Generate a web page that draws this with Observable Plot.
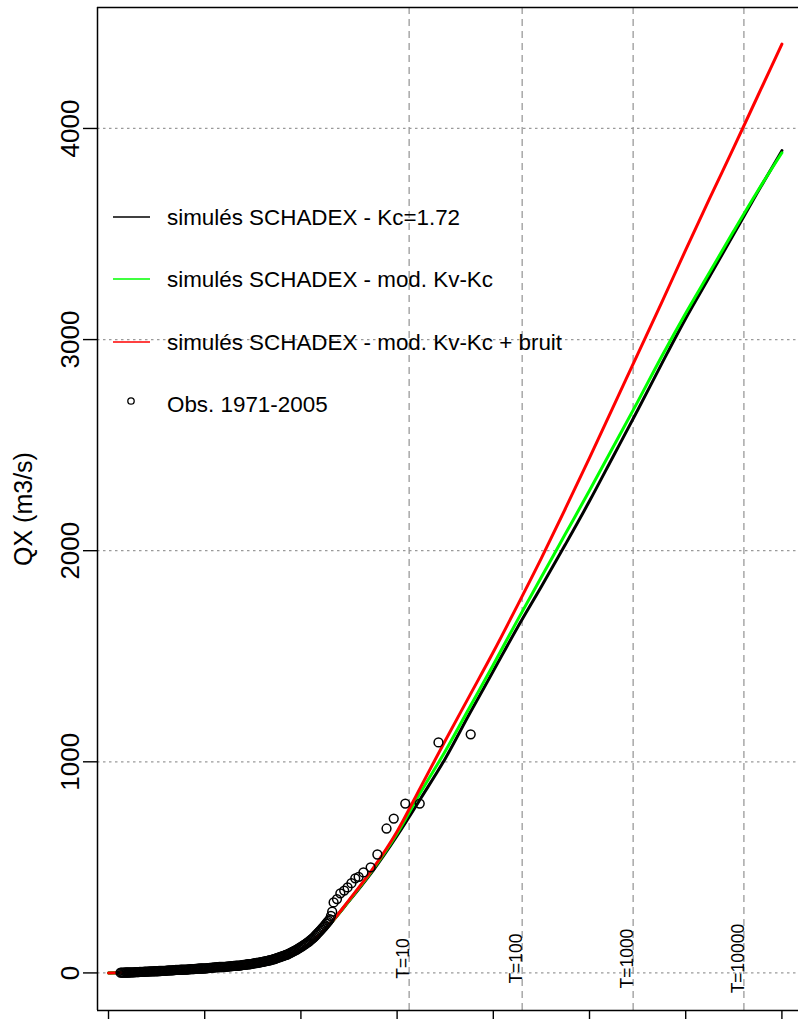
<!DOCTYPE html>
<html><head><meta charset="utf-8">
<script src="https://cdn.jsdelivr.net/npm/d3@7"></script>
<script src="https://cdn.jsdelivr.net/npm/@observablehq/plot@0.6"></script>
<style>body{margin:0;background:#fff;overflow:hidden} svg{display:block}</style>
</head><body><div id="chart"></div>
<script>
// Gumbel reduced variate grid for the simulated curves
const uGrid = [-4,-3.5,-3,-2.5,-2,-1.5,-1,-0.5,0,0.5,1,1.5,2,2.5,3,3.5,4,4.5,5,5.5,6,6.5,7,7.5,8,8.5,9,9.5,10];
const qBlack = [0,2,6,11,18,28,42,65,110,205,340,485,650,830,1015,1225,1430,1635,1830,2030,2235,2450,2665,2885,3100,3300,3500,3700,3895];
const qGreen = [0,2,6,11,18,28,42,65,110,205,342,490,660,860,1050,1255,1460,1670,1875,2080,2285,2495,2705,2920,3125,3320,3515,3705,3885];
const qRed   = [0,2,6,11,18,28,42,65,110,205,345,495,670,885,1100,1310,1520,1740,1965,2200,2440,2685,2930,3175,3425,3670,3910,4155,4400];

// Observations 1971-2005 (reduced variate, discharge)
const obsU = [-3.750,-3.725,-3.700,-3.675,-3.650,-3.625,-3.600,-3.575,-3.550,-3.525,-3.500,-3.475,-3.450,-3.425,-3.400,-3.375,
  -3.350,-3.325,-3.300,-3.275,-3.250,-3.225,-3.200,-3.175,-3.150,-3.125,-3.100,-3.075,-3.050,-3.025,-3.000,-2.975,
  -2.950,-2.925,-2.900,-2.875,-2.850,-2.825,-2.800,-2.775,-2.750,-2.725,-2.700,-2.675,-2.650,-2.625,-2.600,-2.575,
  -2.550,-2.525,-2.500,-2.475,-2.450,-2.425,-2.400,-2.375,-2.350,-2.325,-2.300,-2.275,-2.250,-2.225,-2.200,-2.175,
  -2.150,-2.125,-2.100,-2.075,-2.050,-2.025,-2.000,-1.975,-1.950,-1.925,-1.900,-1.875,-1.850,-1.825,-1.800,-1.775,
  -1.750,-1.725,-1.700,-1.675,-1.650,-1.625,-1.600,-1.575,-1.550,-1.525,-1.500,-1.475,-1.450,-1.425,-1.400,-1.375,
  -1.350,-1.325,-1.300,-1.275,-1.250,-1.225,-1.200,-1.175,-1.150,-1.125,-1.100,-1.075,-1.050,-1.025,-1.000,-0.975,
  -0.950,-0.925,-0.900,-0.875,-0.850,-0.825,-0.800,-0.775,-0.750,-0.725,-0.700,-0.675,-0.650,-0.625,-0.600,-0.575,
  -0.550,-0.525,-0.500,-0.475,-0.450,-0.425,-0.400,-0.375,-0.350,-0.325,-0.300,-0.275,-0.250,-0.225,-0.200,-0.175,
  -0.150,-0.125,-0.100,-0.075,-0.050,-0.025,0.000,0.025,0.050,0.075,0.100,0.125,0.150,0.175,0.200,0.225,
  0.250,0.275,0.300,0.325,0.350,0.375,0.400,0.425,0.450,0.475,0.500,0.525,0.550,0.575,0.600,0.625,0.650,
  0.68,0.75,0.82,0.90,0.97,1.05,1.13,1.20,1.30,1.45,1.59,1.78,1.93,2.17,2.47,2.86,3.53];
const obsQ = [1,1,1,1,2,2,2,2,3,3,3,3,4,4,4,4,
  5,5,5,5,6,6,6,6,7,7,7,7,8,8,8,8,
  9,9,10,10,10,10,11,11,12,12,12,12,13,13,14,14,
  14,14,15,15,16,16,16,16,17,17,18,18,18,18,19,19,
  20,20,21,21,21,21,22,22,23,23,24,24,25,25,26,26,
  27,27,28,28,28,28,29,29,30,30,31,31,32,32,33,33,
  34,34,35,35,36,37,38,38,39,40,41,41,42,43,44,45,
  46,47,48,49,50,51,52,53,55,56,57,58,60,61,63,64,
  66,68,70,72,74,76,78,80,82,84,86,88,91,94,97,100,
  103,106,109,112,116,119,123,126,130,134,138,142,146,150,155,160,
  165,170,176,182,188,194,200,206,213,219,226,233,240,247,255,270,290,
  334,350,377,390,405,425,448,455,476,500,561,684,731,802,802,1092,1130];

const yTicks = [0,1000,2000,3000,4000];
const xTicks = [-4,-2,0,2,4,6,8,10];
const returnLabels = ["T=10","T=100","T=1000","T=10000"];
const returnU = [2.250,4.600,6.907,9.210];
const legendLabels = ["simulés SCHADEX - Kc=1.72","simulés SCHADEX - mod. Kv-Kc","simulés SCHADEX - mod. Kv-Kc + bruit","Obs. 1971-2005"];
const legendColors = ["#000000","#00ff00","#ff0000"];
const yLabel = "QX (m3/s)";

const mk = q => uGrid.map((u,i)=>({u, q:q[i]}));
const obs = obsU.map((u,i)=>({u, q:obsQ[i]}));
const xDom = [-4.229, 10.345], yDom = [-178, 4573];
const font = "'Liberation Sans', Arial, sans-serif";

const plot = Plot.plot({
  width: 798, height: 1019,
  marginLeft: 97, marginRight: 0, marginTop: 7, marginBottom: 9,
  x: {domain: xDom},
  y: {domain: yDom},
  style: {fontFamily: font, background: "white", color: "black"},
  marks: [
    Plot.ruleY(yTicks, {stroke: "#9a9a9a", strokeDasharray: "2.5,3.5", strokeWidth: 1.3}),
    Plot.ruleX(returnU, {stroke: "#9a9a9a", strokeDasharray: "7,5", strokeWidth: 1.3}),
    Plot.text(returnLabels, {x: (d,i)=>returnU[i], y: 68, rotate: -90, lineAnchor: "bottom", textAnchor: "middle", fontSize: 17.5, fill: "black"}),
    Plot.line(mk(qBlack), {x: "u", y: "q", stroke: legendColors[0], strokeWidth: 3, curve: "monotone-x"}),
    Plot.line(mk(qGreen), {x: "u", y: "q", stroke: legendColors[1], strokeWidth: 3, curve: "monotone-x"}),
    Plot.line(mk(qRed), {x: "u", y: "q", stroke: legendColors[2], strokeWidth: 3, curve: "monotone-x"}),
    Plot.dot(obs, {x: "u", y: "q", r: 4.4, stroke: "black", strokeWidth: 1.5, fill: "none"}),
    Plot.axisY(yTicks, {tickSize: 14, tickFormat: () => "", label: null, strokeWidth: 1.4}),
    Plot.text(yTicks, {y: d => d, text: d => String(d), frameAnchor: "left", dx: -27, rotate: -90, textAnchor: "middle", lineAnchor: "middle", fontSize: 26, fill: "black"}),
    Plot.text([yLabel], {frameAnchor: "left", dx: -74, rotate: -90, textAnchor: "middle", lineAnchor: "middle", fontSize: 25, fill: "black"}),
    Plot.axisX(xTicks, {tickSize: 14, tickFormat: () => "", label: null, strokeWidth: 1.4}),
    Plot.ruleX([xDom[0]], {stroke: "black", strokeWidth: 1.5}),
    Plot.ruleY([yDom[0]], {stroke: "black", strokeWidth: 1.5}),
    Plot.ruleY([yDom[1]], {stroke: "black", strokeWidth: 1.5})
  ]
});
document.getElementById("chart").appendChild(plot);

// legend (top-left inside the plot)
const svg = d3.select(plot);
const g = svg.append("g").attr("font-family", font).attr("font-size", 22.4).attr("text-anchor", "start");
const rowsY = [217, 279, 342, 404];
legendLabels.forEach((lab, i) => {
  const y = rowsY[i];
  if (i < 3) {
    g.append("line").attr("x1", 113).attr("x2", 150).attr("y1", y).attr("y2", y)
      .attr("stroke", legendColors[i]).attr("stroke-width", 1.6);
  } else {
    g.append("circle").attr("cx", 131).attr("cy", y - 3).attr("r", 3.2)
      .attr("fill", "none").attr("stroke", "black").attr("stroke-width", 1.3);
  }
  g.append("text").attr("x", 167).attr("y", y).attr("dy", "0.36em").attr("fill", "black")
    .attr("text-anchor", "start").text(lab);
});
</script></body></html>
